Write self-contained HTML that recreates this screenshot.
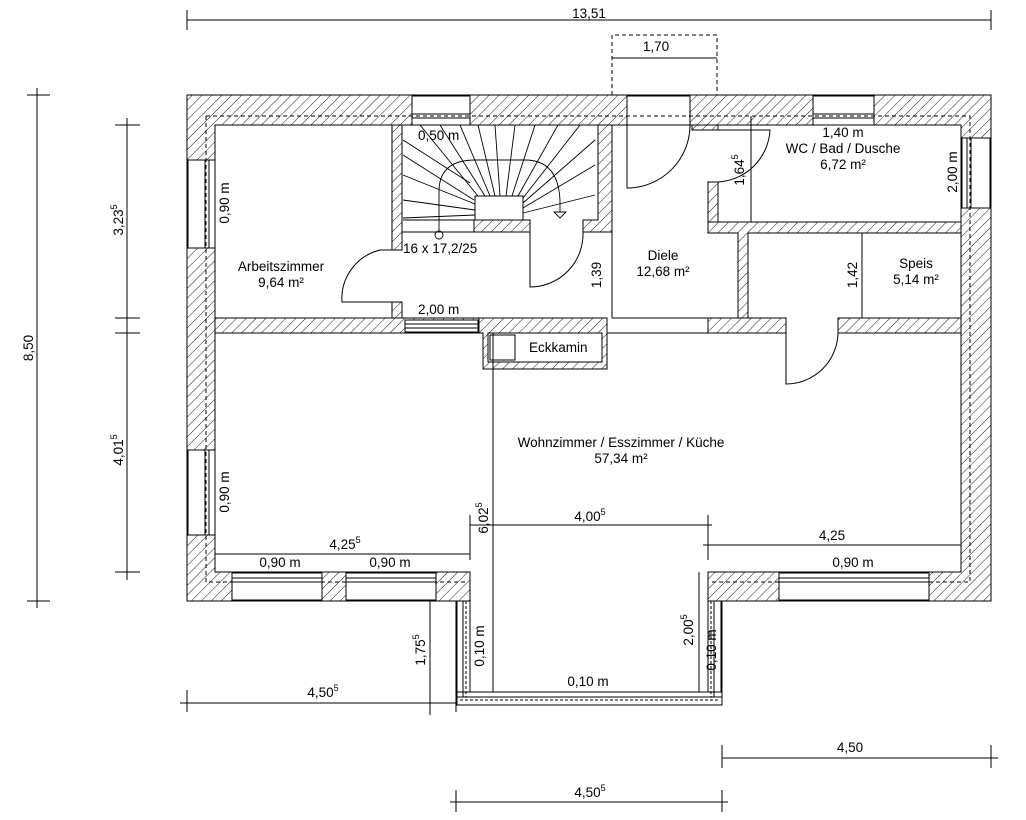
<!DOCTYPE html>
<html><head><meta charset="utf-8"><style>
html,body{margin:0;padding:0;background:#fff;}
svg{display:block;font-family:"Liberation Sans",sans-serif;}
text{font-size:13.5px;fill:#000;}
</style></head><body>
<svg width="1026" height="820" viewBox="0 0 1026 820" xmlns="http://www.w3.org/2000/svg">
<defs>
<pattern id="h" width="7" height="7" patternUnits="userSpaceOnUse" patternTransform="rotate(45)">
<rect width="7" height="7" fill="#fff"/><line x1="0" y1="0" x2="0" y2="7" stroke="#000" stroke-width="0.9"/>
</pattern>
</defs>
<g stroke="#000" stroke-width="1" fill="none">
<path fill="url(#h)" fill-rule="evenodd" d="M187 95 H991 V601 H722 V705 H456 V601 H187 Z M215 125 V572 H470 V692 H708 V572 H961 V125 Z"/>
<rect x="457" y="601" width="13" height="91" fill="#fff"/>
<rect x="708" y="601" width="13" height="91" fill="#fff"/>
<rect x="457" y="692" width="265" height="13" fill="#fff"/>
<line x1="463" y1="601" x2="463" y2="697"/><line x1="466" y1="601" x2="466" y2="697" stroke-dasharray="3,2"/>
<line x1="714" y1="601" x2="714" y2="697"/><line x1="711" y1="601" x2="711" y2="697" stroke-dasharray="3,2"/>
<line x1="457" y1="697" x2="722" y2="697"/><line x1="460" y1="700" x2="720" y2="700" stroke-dasharray="3,2"/>
<line x1="456" y1="705" x2="722" y2="705"/>
<g fill="#fff">
<rect x="188" y="160" width="27" height="88"/>
<rect x="188" y="450" width="27" height="85"/>
<rect x="232" y="573" width="90" height="27"/>
<rect x="346" y="573" width="90" height="27"/>
<rect x="779" y="573" width="150" height="27"/>
<rect x="412" y="96" width="58" height="29"/>
<rect x="813" y="96" width="61" height="29"/>
<rect x="962" y="138" width="28" height="70"/>
<rect x="627" y="96" width="63" height="29"/>
</g>
<g>
<line x1="205" y1="160" x2="205" y2="248"/><line x1="209" y1="160" x2="209" y2="248"/>
<line x1="205" y1="450" x2="205" y2="535"/><line x1="209" y1="450" x2="209" y2="535"/>
<line x1="232" y1="578" x2="322" y2="578"/><line x1="232" y1="582" x2="322" y2="582"/>
<line x1="346" y1="578" x2="436" y2="578"/><line x1="346" y1="582" x2="436" y2="582"/>
<line x1="779" y1="578" x2="929" y2="578"/><line x1="779" y1="582" x2="929" y2="582"/>
<line x1="412" y1="114" x2="470" y2="114"/><line x1="412" y1="118" x2="470" y2="118"/>
<line x1="813" y1="114" x2="874" y2="114"/><line x1="813" y1="118" x2="874" y2="118"/>
<line x1="967" y1="138" x2="967" y2="208"/><line x1="971" y1="138" x2="971" y2="208"/>
</g>
<path stroke-dasharray="4,3" d="M206 116 H970 V582 H712 M206 116 V582 H466"/>
<g fill="url(#h)">
<path d="M392 125 H402 V250 H392 Z"/>
<path d="M392 302 H402 V318 H392 Z"/>
<path d="M215 318 H479 V333 H215 Z"/>
<path d="M598 125 H612 V232 H583 V220 H598 Z"/>
<path d="M474 220 H530 V232 H474 Z"/>
<path d="M708 222 H961 V233 H748 V318 H738 V233 H708 Z"/>
<path d="M708 182 H718 V222 H708 Z"/>
<path d="M708 318 H786 V333 H708 Z"/>
<path d="M838 318 H961 V333 H838 Z"/>
<path d="M479 318 H607 V369 H483 V333 H479 Z"/>
<path d="M692 125 H718 V130 H692 Z"/>
</g>
<rect x="405" y="320" width="73" height="12" fill="#fff"/>
<line x1="405" y1="324" x2="478" y2="324"/><line x1="405" y1="328" x2="478" y2="328"/>
<rect x="488" y="333" width="114" height="29" fill="#fff"/>
<rect x="490" y="335" width="25" height="25"/>
<line x1="612" y1="318" x2="708" y2="318"/>
<line x1="607" y1="333" x2="708" y2="333"/>
<line x1="402" y1="232" x2="474" y2="232"/>
<rect x="475" y="196" width="48" height="24" fill="#fff"/>
<g stroke-width="0.9">
<line x1="403" y1="140" x2="470" y2="183"/><line x1="403" y1="155" x2="474" y2="200"/>
<line x1="403" y1="175" x2="475" y2="204"/><line x1="403" y1="200" x2="475" y2="210"/>
<line x1="403" y1="218" x2="475" y2="215"/>
<line x1="420" y1="125" x2="478" y2="196"/><line x1="440" y1="125" x2="485" y2="196"/>
<line x1="460" y1="125" x2="490" y2="196"/><line x1="478" y1="125" x2="495" y2="196"/>
<line x1="495" y1="125" x2="500" y2="196"/><line x1="515" y1="125" x2="506" y2="196"/>
<line x1="535" y1="125" x2="512" y2="196"/><line x1="558" y1="125" x2="518" y2="196"/>
<line x1="580" y1="125" x2="523" y2="198"/><line x1="595" y1="140" x2="523" y2="203"/>
<line x1="595" y1="165" x2="523" y2="208"/><line x1="595" y1="195" x2="523" y2="213"/>
<path d="M439 220 V190 Q440 160 475 160 H525 Q558 160 560 200 V212"/>
<line x1="439" y1="220" x2="439" y2="231"/>
<circle cx="439" cy="235" r="4"/>
<path d="M554 212 H566 L560 218 Z"/>
<line x1="403" y1="220" x2="474" y2="220"/>
</g>
<path d="M392 250 H380 A50 50 0 0 0 342 302 H392"/>
<path d="M530 232 V287 A53 53 0 0 0 583 232"/>
<path d="M627 125 V188 A63 63 0 0 0 690 125"/>
<path d="M718 130 H770 A55 55 0 0 1 718 182"/>
<path d="M786 333 V384 A52 52 0 0 0 838 333"/>
<line x1="493" y1="333" x2="493" y2="692"/>
<line x1="612" y1="232" x2="612" y2="318"/>
<line x1="751" y1="116" x2="751" y2="222"/>
<line x1="862" y1="233" x2="862" y2="318"/>
<line x1="215" y1="554" x2="470" y2="554"/>
<line x1="470" y1="525" x2="712" y2="525"/>
<line x1="703" y1="545" x2="961" y2="545"/>
<line x1="470" y1="515" x2="470" y2="560"/>
<line x1="708" y1="515" x2="708" y2="560"/>
<line x1="699" y1="572" x2="699" y2="692"/>
<line x1="430" y1="601" x2="430" y2="715"/>
<path stroke-dasharray="4,3" d="M612 95 V35 H717 V95"/>
<line x1="612" y1="58" x2="717" y2="58"/>
<line x1="187" y1="20" x2="991" y2="20"/>
<line x1="187" y1="10" x2="187" y2="30"/><line x1="991" y1="10" x2="991" y2="30"/>
<line x1="37" y1="88" x2="37" y2="608"/>
<line x1="27" y1="95" x2="50" y2="95"/><line x1="27" y1="601" x2="50" y2="601"/>
<line x1="127" y1="118" x2="127" y2="580"/>
<line x1="115" y1="125" x2="140" y2="125"/><line x1="115" y1="318" x2="140" y2="318"/>
<line x1="115" y1="333" x2="140" y2="333"/><line x1="115" y1="572" x2="140" y2="572"/>
<line x1="180" y1="703" x2="456" y2="703"/>
<line x1="187" y1="690" x2="187" y2="712"/><line x1="456" y1="690" x2="456" y2="712"/>
<line x1="722" y1="758" x2="998" y2="758"/>
<line x1="722" y1="745" x2="722" y2="768"/><line x1="991" y1="745" x2="991" y2="768"/>
<line x1="450" y1="802" x2="728" y2="802"/>
<line x1="456" y1="790" x2="456" y2="812"/><line x1="722" y1="790" x2="722" y2="812"/>
</g>
<text x="589" y="18" text-anchor="middle">13,51</text>
<text x="656" y="51" text-anchor="middle">1,70</text>
<text x="281" y="271" text-anchor="middle">Arbeitszimmer</text>
<text x="281" y="287" text-anchor="middle">9,64 m²</text>
<text x="418" y="140">0,50 m</text>
<text x="403" y="253">16 x 17,2/25</text>
<text x="418" y="314">2,00 m</text>
<text x="663" y="260" text-anchor="middle">Diele</text>
<text x="663" y="276" text-anchor="middle">12,68 m²</text>
<text x="843" y="137" text-anchor="middle">1,40 m</text>
<text x="843" y="153" text-anchor="middle">WC / Bad / Dusche</text>
<text x="843" y="169" text-anchor="middle">6,72 m²</text>
<text x="916" y="268" text-anchor="middle">Speis</text>
<text x="916" y="284" text-anchor="middle">5,14 m²</text>
<text x="529" y="352">Eckkamin</text>
<text x="621" y="447" text-anchor="middle">Wohnzimmer / Esszimmer / Küche</text>
<text x="621" y="463" text-anchor="middle">57,34 m²</text>
<text x="345" y="549" text-anchor="middle">4,25<tspan font-size="9" dy="-6">5</tspan></text>
<text x="280" y="567" text-anchor="middle">0,90 m</text>
<text x="390" y="567" text-anchor="middle">0,90 m</text>
<text x="590" y="521" text-anchor="middle">4,00<tspan font-size="9" dy="-6">5</tspan></text>
<text x="832" y="540" text-anchor="middle">4,25</text>
<text x="853" y="567" text-anchor="middle">0,90 m</text>
<text x="588" y="686" text-anchor="middle">0,10 m</text>
<text x="323" y="697" text-anchor="middle">4,50<tspan font-size="9" dy="-6">5</tspan></text>
<text x="850" y="752" text-anchor="middle">4,50</text>
<text x="590" y="797" text-anchor="middle">4,50<tspan font-size="9" dy="-6">5</tspan></text>
<g>
<text transform="translate(33,348) rotate(-90)" text-anchor="middle">8,50</text>
<text transform="translate(123,220) rotate(-90)" text-anchor="middle">3,23<tspan font-size="9" dy="-6">5</tspan></text>
<text transform="translate(123,450) rotate(-90)" text-anchor="middle">4,01<tspan font-size="9" dy="-6">5</tspan></text>
<text transform="translate(229,203) rotate(-90)" text-anchor="middle">0,90 m</text>
<text transform="translate(229,492) rotate(-90)" text-anchor="middle">0,90 m</text>
<text transform="translate(601,275) rotate(-90)" text-anchor="middle">1,39</text>
<text transform="translate(744,170) rotate(-90)" text-anchor="middle">1,64<tspan font-size="9" dy="-6">5</tspan></text>
<text transform="translate(957,172) rotate(-90)" text-anchor="middle">2,00 m</text>
<text transform="translate(857,275) rotate(-90)" text-anchor="middle">1,42</text>
<text transform="translate(488,518) rotate(-90)" text-anchor="middle">6,02<tspan font-size="9" dy="-6">5</tspan></text>
<text transform="translate(425,650) rotate(-90)" text-anchor="middle">1,75<tspan font-size="9" dy="-6">5</tspan></text>
<text transform="translate(484,646) rotate(-90)" text-anchor="middle">0,10 m</text>
<text transform="translate(693,630) rotate(-90)" text-anchor="middle">2,00<tspan font-size="9" dy="-6">5</tspan></text>
<text transform="translate(716,650) rotate(-90)" text-anchor="middle" font-size="10">0,10 m</text>
</g>
</svg>
</body></html>
